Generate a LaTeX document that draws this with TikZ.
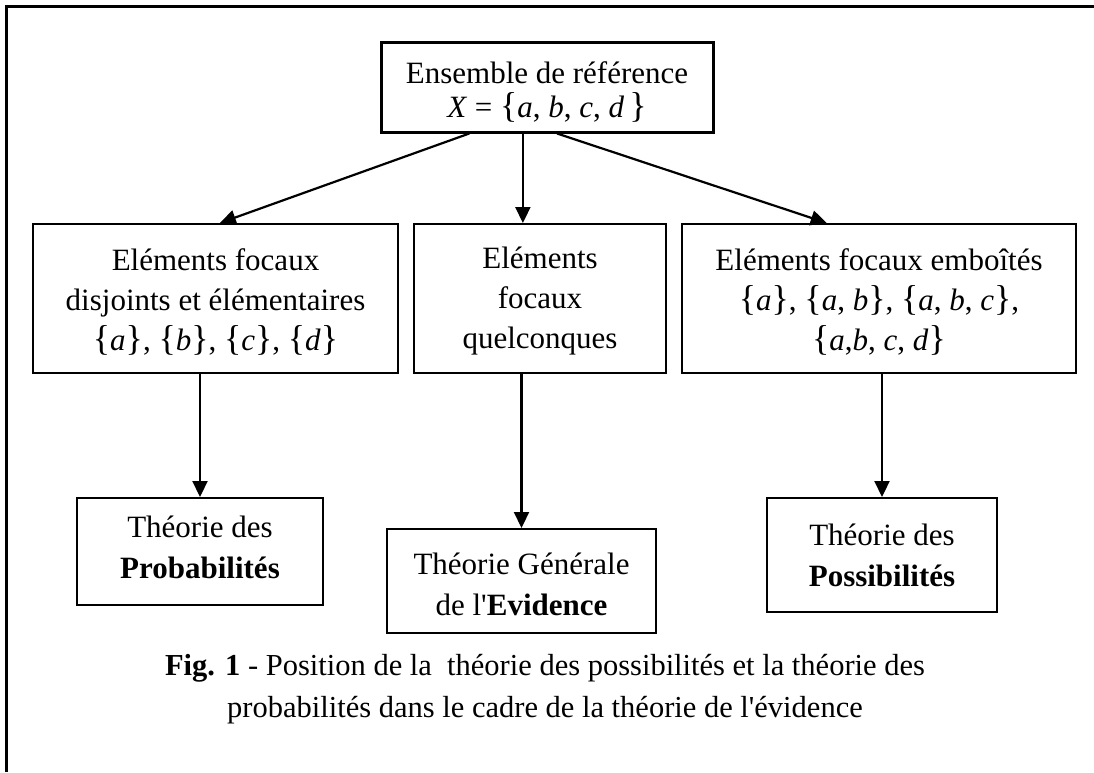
\documentclass[tikz,border=0pt]{standalone}
\usepackage{fontspec}
\setmainfont{Liberation Serif}[Ligatures=TeXOff]
\usetikzlibrary{arrows.meta,calc}
\newcommand{\ob}{{\fontsize{36}{36}\selectfont\{}}
\newcommand{\cb}{{\fontsize{36}{36}\selectfont\}}}
\newcommand{\iv}[1]{\textit{#1}}
\begin{document}
\begin{tikzpicture}[x=1pt,y=-1pt,
  box/.style={draw, line width=2pt, inner sep=0pt},
  txt/.style={align=center, inner sep=0pt, font=\fontsize{31}{40}\selectfont},
  arr/.style={-{Triangle[length=16pt,width=15pt]}, line width=2.2pt}]
\useasboundingbox (0,0) rectangle (1094,772);
\draw[line width=3pt] (6,772) -- (6,6) -- (1094,6);

% boxes
\node[box, line width=3pt, minimum width=332pt, minimum height=90pt] (top) at (547,87) {};
\node[box, minimum width=365pt, minimum height=149pt] (ml) at (215.5,298.5) {};
\node[box, minimum width=252pt, minimum height=149pt] (mc) at (540,298.5) {};
\node[box, minimum width=394pt, minimum height=149pt] (mr) at (879,298.5) {};
\node[box, minimum width=246pt, minimum height=107pt] (bl) at (200,551.5) {};
\node[box, minimum width=269pt, minimum height=104pt] (bc) at (521.5,581) {};
\node[box, minimum width=230pt, minimum height=114pt] (br) at (882,555) {};

% texts
\node[txt, font=\fontsize{31}{34}\selectfont] (topt) at ($(top.center)+(0,5)$)
  {Ensemble de référence\\ \iv{X} = \ob\iv{a}, \iv{b}, \iv{c}, \iv{d}\,\cb};
\node[txt] (mlt) at ($(ml.center)+(0,3)$)
  {Eléments focaux\\ disjoints et élémentaires\\ \ob\iv{a}\cb, \ob\iv{b}\cb, \ob\iv{c}\cb, \ob\iv{d}\cb};
\node[txt] (mct) at ($(mc.center)+(0,3)$)
  {Eléments\\ focaux\\ quelconques};
\node[txt] (mrt) at ($(mr.center)+(0,3)$)
  {Eléments focaux emboîtés\\ \ob\iv{a}\cb, \ob\iv{a}, \iv{b}\cb, \ob\iv{a}, \iv{b}, \iv{c}\cb,\\ \ob\iv{a},\iv{b}, \iv{c}, \iv{d}\cb};
\node[txt, font=\fontsize{31}{41}\selectfont] (blt) at ($(bl.center)+(0,-4)$)
  {Théorie des\\ \textbf{Probabilités}};
\node[txt, font=\fontsize{31}{41}\selectfont] (bct) at ($(bc.center)+(0,3)$)
  {Théorie Générale\\ de l'\textbf{Evidence}};
\node[txt, font=\fontsize{31}{41}\selectfont] (brt) at (br.center)
  {Théorie des\\ \textbf{Possibilités}};

\node[txt, font=\fontsize{30.5}{42}\selectfont] (cap) at (545,689)
  {\textbf{Fig. 1} - Position de la \ théorie des possibilités et la théorie des\\ probabilités dans le cadre de la théorie de l'évidence};

% connectors
\coordinate (t1) at ($(top.south west)!0.268!(top.south east)$);
\coordinate (t2) at ($(top.south west)!0.428!(top.south east)$);
\coordinate (t3) at ($(top.south west)!0.530!(top.south east)$);
\draw[arr] (t1) -- ($(ml.north west)!0.512!(ml.north east)$);
\draw[arr] (t2) -- (t2 |- mc.north);
\draw[arr] (t3) -- ($(mr.north west)!0.368!(mr.north east)$);

\draw[arr] (bl.north |- ml.south) -- (bl.north);
\draw[arr] (bc.north |- mc.south) -- (bc.north);
\draw[arr] (br.north |- mr.south) -- (br.north);
\end{tikzpicture}
\end{document}
